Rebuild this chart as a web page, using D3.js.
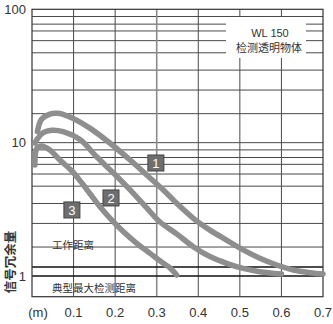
<!DOCTYPE html>
<html><head><meta charset="utf-8">
<script src="https://cdn.jsdelivr.net/npm/d3@7"></script>
<style>
html,body{margin:0;padding:0;background:#fff;}
svg{display:block;}
text{font-family:"Liberation Sans",Arial,sans-serif;}
.cjk{font-family:"Noto Sans CJK SC",sans-serif;}
</style></head>
<body>
<svg id="chart" width="333" height="324"></svg>
<script>
// ---- data ----
const xTicks = [0.1, 0.2, 0.3, 0.4, 0.5, 0.6, 0.7];
const xTickLabels = ["0.1", "0.2", "0.3", "0.4", "0.5", "0.6", "0.7"];
const yTicks = [1, 10, 100];
const yTickLabels = ["1", "10", "100"];
// horizontal gridlines
const gridUpper = [16.5, 24.8, 35, 47.2, 58.2, 68.8, 77.4, 88.3, 10];
const gridLower = [1.65, 2.48, 3.5, 4.72, 5.82, 6.88, 7.74, 8.83];
const refLines = [1, 1.17];

const curve1X = [0.013, 0.023, 0.043, 0.063, 0.099, 0.14, 0.188, 0.236, 0.276, 0.316, 0.348, 0.388, 0.428, 0.468, 0.508, 0.548, 0.589, 0.629, 0.669, 0.70];
const curve1Y = [12.1, 15.0, 16.4, 16.6, 15.2, 12.8, 9.9, 7.41, 5.72, 4.42, 3.51, 2.71, 2.21, 1.86, 1.57, 1.36, 1.21, 1.11, 1.06, 1.035];
const curve2X = [0.007, 0.014, 0.027, 0.047, 0.075, 0.116, 0.156, 0.196, 0.236, 0.276, 0.308, 0.348, 0.388, 0.428, 0.468, 0.508, 0.548, 0.60];
const curve2Y = [9.94, 10.8, 11.9, 12.4, 12.1, 10.5, 7.8, 5.92, 4.42, 3.24, 2.54, 2.07, 1.66, 1.40, 1.245, 1.14, 1.077, 1.035];
const curve3X = [0.007, 0.008, 0.012, 0.023, 0.043, 0.067, 0.096, 0.12, 0.14, 0.164, 0.188, 0.22, 0.252, 0.284, 0.316, 0.332, 0.348];
const curve3Y = [6.8, 8.08, 9.12, 9.44, 8.81, 7.41, 6.13, 4.98, 4.12, 3.29, 2.71, 2.15, 1.76, 1.48, 1.245, 1.15, 1.017];
const curveNames = ["1", "2", "3"];
const markerX = [0.298, 0.19, 0.096];
const markerY = [7.04, 3.85, 3.13];

// ---- chart ----
const svg = d3.select("#chart");
const W = 333, H = 324;
const margin = {left: 32, right: 10, top: 9.3, bottom: 27.3};
const x = d3.scaleLinear().domain([0, 0.7]).range([margin.left, W - margin.right]);
const y = d3.scaleLog().domain([0.7, 100]).range([H - margin.bottom, margin.top]);

const g = svg.append("g");

// horizontal grid
const hGrid = gridUpper.concat(gridLower);
g.selectAll("line.hg").data(hGrid).enter().append("line")
  .attr("x1", x(0)).attr("x2", x(0.7))
  .attr("y1", d => y(d)).attr("y2", d => y(d))
  .attr("stroke", "#4a4a4a").attr("stroke-width", 1);

// vertical grid
g.selectAll("line.vg").data(xTicks.slice(0, -1)).enter().append("line")
  .attr("x1", d => x(d)).attr("x2", d => x(d))
  .attr("y1", y(100)).attr("y2", y(0.7))
  .attr("stroke", d => d === 0.3 ? "#8a8a8a" : "#4a4a4a")
  .attr("stroke-width", d => d === 0.3 ? 1.6 : 1);

// reference thick lines
g.selectAll("line.ref").data(refLines).enter().append("line")
  .attr("x1", x(0)).attr("x2", x(0.7))
  .attr("y1", d => y(d)).attr("y2", d => y(d))
  .attr("stroke", "#111").attr("stroke-width", 1.6);

// white box for title
g.append("rect").attr("x", 226).attr("y", 17).attr("width", 80).attr("height", 41).attr("fill", "#fff");
g.append("text").attr("x", 270).attr("y", 37).attr("text-anchor", "middle")
  .attr("font-size", 11).attr("fill", "#333").text("WL 150");
g.append("text").attr("class", "cjk").attr("x", 269).attr("y", 52).attr("text-anchor", "middle")
  .attr("font-size", 11).attr("fill", "#333").text("检测透明物体");

// frame
g.append("rect").attr("x", x(0)).attr("y", y(100))
  .attr("width", x(0.7) - x(0)).attr("height", y(0.7) - y(100))
  .attr("fill", "none").attr("stroke", "#333").attr("stroke-width", 1.2);

// curves
const curves = [
  curve1X.map((v, i) => [v, curve1Y[i]]),
  curve2X.map((v, i) => [v, curve2Y[i]]),
  curve3X.map((v, i) => [v, curve3Y[i]])
];
const line = d3.line().x(d => x(d[0])).y(d => y(d[1])).curve(d3.curveCatmullRom.alpha(0.5));
g.selectAll("path.curve").data(curves).enter().append("path")
  .attr("d", line).attr("fill", "none")
  .attr("stroke", "#8e8e8e").attr("stroke-width", 5.5)
  .attr("stroke-linecap", "round");

// markers
const mk = g.selectAll("g.mk").data(curveNames).enter().append("g")
  .attr("transform", (d, i) => `translate(${x(markerX[i])},${y(markerY[i])})`);
mk.append("rect").attr("x", -8).attr("y", -8).attr("width", 16).attr("height", 16)
  .attr("fill", "#6e6e6e").attr("stroke", "#444").attr("stroke-width", 1);
mk.append("text").attr("text-anchor", "middle").attr("y", 5).attr("font-size", 13)
  .attr("fill", "#fff").text(d => d);

// annotations
g.append("text").attr("class", "cjk").attr("x", 52).attr("y", 249)
  .attr("font-size", 10.5).attr("fill", "#333").text("工作距离");
g.append("text").attr("class", "cjk").attr("x", 52).attr("y", 291.5)
  .attr("font-size", 10.5).attr("fill", "#333").text("典型最大检测距离");

// y tick labels
g.selectAll("text.yt").data(yTicks).enter().append("text")
  .attr("x", 26).attr("y", d => y(d)).attr("dy", "0.36em")
  .attr("text-anchor", "end").attr("font-size", 13).attr("fill", "#333")
  .text((d, i) => yTickLabels[i]);

// x tick labels
g.selectAll("text.xt").data(xTicks).enter().append("text")
  .attr("x", d => x(d)).attr("y", 317).attr("text-anchor", "middle")
  .attr("font-size", 13).attr("fill", "#333")
  .text((d, i) => xTickLabels[i]);
g.append("text").attr("x", 38).attr("y", 317).attr("text-anchor", "middle")
  .attr("font-size", 13).attr("fill", "#333").text("(m)");

// y title
g.append("text").attr("class", "cjk")
  .attr("transform", "translate(15,262) rotate(-90)")
  .attr("text-anchor", "middle").attr("font-size", 12.5).attr("font-weight", "bold")
  .attr("fill", "#333").text("信号冗余量");
</script>
</body></html>
